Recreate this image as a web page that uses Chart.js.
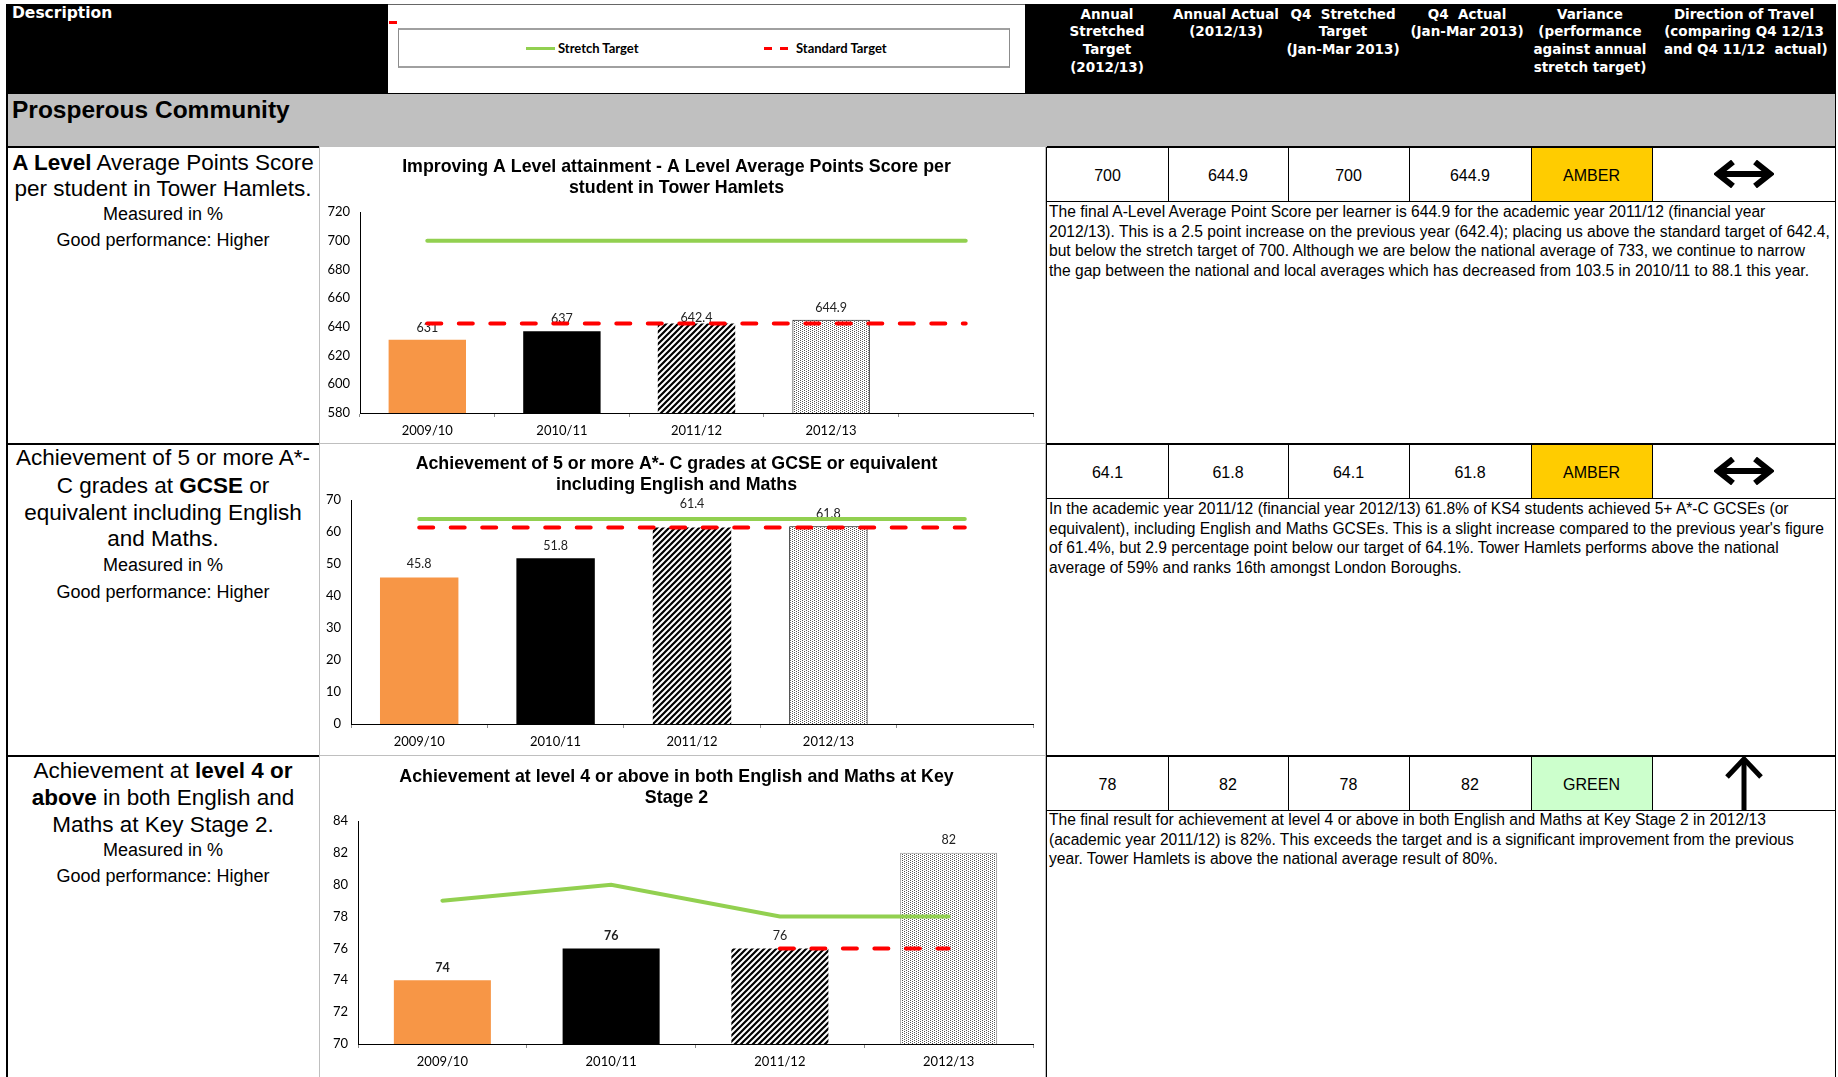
<!DOCTYPE html>
<html lang="en">
<head>
<meta charset="UTF-8">
<title>Prosperous Community - Education</title>
<script src="https://cdn.jsdelivr.net/npm/chart.js"></script>
<style>
  body { margin: 0; width: 1838px; height: 1077px; overflow: hidden; background: #fff; position: relative;
         font-family: 'Liberation Sans', Arial, sans-serif; color: #000; }
  .box { position: absolute; box-sizing: border-box; }
  .hd { position: absolute; color: #fff; font-family: 'DejaVu Sans', sans-serif;
        font-weight: bold; font-size: 13.5px; line-height: 17.8px; text-align: center; white-space: nowrap; width: 160px; }
  .dl { position: absolute; left: 8px; width: 310px; text-align: center; white-space: nowrap; line-height: 26px; }
  .big { font-size: 22.5px; }
  .small { font-size: 18px; }
  .para { position: absolute; left: 1049px; font-size: 15.6px; line-height: 19.5px; white-space: nowrap; }
  .val { position: absolute; font-size: 16px; text-align: center; line-height: 20px; }
  canvas { position: absolute; left: 320px; }
</style>
</head>
<body>

<!-- header band -->
<div class="box" style="left:6px;top:4px;width:1830px;height:90px;background:#000"></div>
<div class="box" style="left:388px;top:4px;width:637px;height:89px;background:#fff;border-top:1px solid #666"></div>
<div class="box" style="left:389px;top:21px;width:8px;height:3px;background:#f00"></div>
<div class="box" style="left:398px;top:28px;width:612px;height:40px;border:1px solid #8c8c8c;border-top:2px solid #a0a0a0;border-bottom:2px solid #a0a0a0"></div>
<div class="box" style="left:526px;top:47px;width:29px;height:3px;background:#92D050"></div>
<div class="box" style="left:764px;top:47px;width:8px;height:3px;background:#f00"></div>
<div class="box" style="left:780px;top:47px;width:8px;height:3px;background:#f00"></div>
<div class="box" style="left:558px;top:40px;font:bold 13px Lato, sans-serif;line-height:16px">Stretch Target</div>
<div class="box" style="left:796px;top:40px;font:bold 13px Lato, sans-serif;line-height:16px">Standard Target</div>

<div class="hd" style="left:12px;top:5px;width:auto;font-size:15.5px;text-align:left">Description</div>
<div class="hd" style="left:1027px;top:5.5px">Annual<br>Stretched<br>Target<br>(2012/13)</div>
<div class="hd" style="left:1146px;top:5.5px">Annual Actual<br>(2012/13)</div>
<div class="hd" style="left:1263px;top:5.5px">Q4&nbsp; Stretched<br>Target<br>(Jan-Mar 2013)</div>
<div class="hd" style="left:1387px;top:5.5px">Q4&nbsp; Actual<br>(Jan-Mar 2013)</div>
<div class="hd" style="left:1510px;top:5.5px">Variance<br>(performance<br>against annual<br>stretch target)</div>
<div class="hd" style="left:1664px;top:5.5px">Direction of Travel<br>(comparing Q4 12/13<br>and Q4 11/12&nbsp; actual)</div>

<!-- section band -->
<div class="box" style="left:7px;top:94px;width:1829px;height:53px;background:#c0c0c0"></div>
<div class="box" style="left:12px;top:95px;font-weight:bold;font-size:24.5px;line-height:30px">Prosperous Community</div>

<!-- grid lines and cells are added by script -->
<div id="grid"></div>

<!-- description column -->
<div class="dl big" style="top:150px"><b>A Level</b> Average Points Score</div>
<div class="dl big" style="top:176px">per student in Tower Hamlets.</div>
<div class="dl small" style="top:201px">Measured in %</div>
<div class="dl small" style="top:227px">Good performance: Higher</div>

<div class="dl big" style="top:445px">Achievement of 5 or more A*-</div>
<div class="dl big" style="top:473px">C grades at <b>GCSE</b> or</div>
<div class="dl big" style="top:500px">equivalent including English</div>
<div class="dl big" style="top:526px">and Maths.</div>
<div class="dl small" style="top:552px">Measured in %</div>
<div class="dl small" style="top:579px">Good performance: Higher</div>

<div class="dl big" style="top:758px">Achievement at <b>level 4 or</b></div>
<div class="dl big" style="top:785px"><b>above</b> in both English and</div>
<div class="dl big" style="top:812px">Maths at Key Stage 2.</div>
<div class="dl small" style="top:837px">Measured in %</div>
<div class="dl small" style="top:863px">Good performance: Higher</div>

<!-- commentary -->
<div class="para" style="top:202px">The final A-Level Average Point Score per learner is 644.9 for the academic year 2011/12 (financial year<br>2012/13). This is a 2.5 point increase on the previous year (642.4); placing us above the standard target of 642.4,<br>but below the stretch target of 700. Although we are below the national average of 733, we continue to narrow<br>the gap between the national and local averages which has decreased from 103.5 in 2010/11 to 88.1 this year.</div>
<div class="para" style="top:499px">In the academic year 2011/12 (financial year 2012/13) 61.8% of KS4 students achieved 5+ A*-C GCSEs (or<br>equivalent), including English and Maths GCSEs. This is a slight increase compared to the previous year's figure<br>of 61.4%, but 2.9 percentage point below our target of 64.1%. Tower Hamlets performs above the national<br>average of 59% and ranks 16th amongst London Boroughs.</div>
<div class="para" style="top:810px">The final result for achievement at level 4 or above in both English and Maths at Key Stage 2 in 2012/13<br>(academic year 2011/12) is 82%. This exceeds the target and is a significant improvement from the previous<br>year. Tower Hamlets is above the national average result of 80%.</div>

<canvas id="chartALevel" width="726" height="295" style="top:148px;width:726px;height:295px"></canvas>
<canvas id="chartGcse" width="726" height="310" style="top:445px;width:726px;height:310px"></canvas>
<canvas id="chartKs2" width="726" height="318" style="top:757px;width:726px;height:318px"></canvas>

<script>
// ---- chart data ----
const yearsFive = ['2009/10', '2010/11', '2011/12', '2012/13', ''];
const yearsFour = ['2009/10', '2010/11', '2011/12', '2012/13'];

const aLevelTitle = ['Improving A Level attainment - A Level Average Points Score per', 'student in Tower Hamlets'];
const aLevelActual = [631, 637, 642.4, 644.9, null];
const aLevelStretch = [700, 700, 700, 700, 700];
const aLevelStandard = [642.4, 642.4, 642.4, 642.4, 642.4];
const aLevelAxis = [580, 720, 20];

const gcseTitle = ['Achievement of 5 or more A*- C grades at GCSE or equivalent', 'including English and Maths'];
const gcseActual = [45.8, 51.8, 61.4, 61.8, null];
const gcseStretch = [64.1, 64.1, 64.1, 64.1, 64.1];
const gcseStandard = [61.4, 61.4, 61.4, 61.4, 61.4];
const gcseAxis = [0, 70, 10];

const ks2Title = ['Achievement at level 4 or above in both English and Maths at Key', 'Stage 2'];
const ks2Actual = [74, 76, 76, 82];
const ks2Stretch = [79, 80, 78, 78];
const ks2Standard = [null, null, 76, 76];
const ks2Axis = [70, 84, 2];

// ---- table data ----
const targetRows = [
  ['700', '644.9', '700', '644.9', 'AMBER', 'same'],
  ['64.1', '61.8', '64.1', '61.8', 'AMBER', 'same'],
  ['78', '82', '78', '82', 'GREEN', 'up']
];
const ragColours = { AMBER: '#FFCC00', GREEN: '#CCFFCC' };

// ---- table frame ----
const grid = document.getElementById('grid');
function box(x, y, w, h, bg) {
  const d = document.createElement('div');
  d.className = 'box';
  d.style.cssText = `left:${x}px;top:${y}px;width:${w}px;height:${h}px;background:${bg}`;
  grid.appendChild(d);
  return d;
}
const rowTops = [147, 444, 756];
const colEdges = [1047, 1168, 1288, 1409, 1531, 1652, 1836];
const valueRowHeight = 54;

box(6, 94, 2, 983, '#000');
box(1835, 94, 1, 983, '#000');
box(1046, 147, 1, 930, '#000');
box(319, 147, 1, 930, '#bfbfbf');
box(1045, 147, 1, 930, '#bfbfbf');

const arrowSame = '<svg width="60" height="28" viewBox="0 0 60 28"><path d="M4 14 H56" stroke="#000" stroke-width="6"/><path d="M19 2 L4 14 L19 26 M41 2 L56 14 L41 26" fill="none" stroke="#000" stroke-width="6"/></svg>';
const arrowUp = '<svg width="40" height="54" viewBox="0 0 40 54"><path d="M20 4 V54" stroke="#000" stroke-width="5"/><path d="M3 21 L20 3 L37 21" fill="none" stroke="#000" stroke-width="5"/></svg>';

targetRows.forEach((row, r) => {
  const top = rowTops[r];
  box(7, top - 1, 312, 2, '#000');
  box(320, top - 1, 726, 1, '#bfbfbf');
  box(1047, top - 1, 789, 2, '#000');
  box(1047, top + valueRowHeight, 789, 1, '#000');
  for (let c = 0; c < 6; c++) {
    const x = colEdges[c], w = colEdges[c + 1] - x;
    if (c === 4) box(x + 1, top + 1, w - 1, valueRowHeight - 1, ragColours[row[4]]);
    if (c > 0) box(x, top, 1, valueRowHeight, '#000');
    const v = document.createElement('div');
    v.className = 'val';
    if (c < 5) {
      v.style.cssText = `left:${x}px;width:${w}px;top:${top + valueRowHeight / 2 - 8.5}px`;
      v.textContent = row[c];
    } else if (row[5] === 'same') {
      v.style.cssText = `left:${x}px;width:${w}px;top:${top + 13}px;line-height:0`;
      v.innerHTML = arrowSame;
    } else {
      v.style.cssText = `left:${x}px;width:${w}px;top:${top}px;line-height:0`;
      v.innerHTML = arrowUp;
    }
    grid.appendChild(v);
  }
});

// ---- patterns for the last two bars ----
function hatchPattern() {
  const c = document.createElement('canvas');
  c.width = 6; c.height = 6;
  const g = c.getContext('2d');
  g.fillStyle = '#fff';
  g.fillRect(0, 0, 6, 6);
  g.strokeStyle = '#000';
  g.lineWidth = 2.2;
  g.beginPath();
  g.moveTo(-1, 7); g.lineTo(7, -1);
  g.moveTo(-1, 1); g.lineTo(1, -1);
  g.moveTo(5, 7); g.lineTo(7, 5);
  g.stroke();
  return g.createPattern(c, 'repeat');
}
function dotPattern() {
  const c = document.createElement('canvas');
  c.width = 4; c.height = 2;
  const g = c.getContext('2d');
  g.fillStyle = '#fff';
  g.fillRect(0, 0, 4, 2);
  g.fillStyle = '#555';
  g.fillRect(0, 0, 1, 1);
  g.fillRect(2, 1, 1, 1);
  return g.createPattern(c, 'repeat');
}

// value labels above the bars, drawn before the target lines
const barLabels = {
  id: 'barLabels',
  afterDatasetDraw(chart, args, opts) {
    if (args.index !== 0) return;
    const ctx = chart.ctx;
    const values = chart.data.datasets[0].data;
    args.meta.data.forEach((bar, i) => {
      if (values[i] == null) return;
      ctx.save();
      ctx.font = `${opts.bold && opts.bold[i] ? 'bold ' : ''}12.5px Lato, sans-serif`;
      ctx.fillStyle = '#222';
      ctx.textAlign = 'center';
      ctx.textBaseline = 'middle';
      ctx.fillText(String(values[i]), bar.x, bar.y - (opts.lift ? opts.lift[i] : 12));
      ctx.restore();
    });
  }
};

const chartFont = "Lato, 'Liberation Sans', sans-serif";

function buildChart(id, p) {
  return new Chart(document.getElementById(id), {
    type: 'bar',
    plugins: [barLabels],
    data: {
      labels: p.labels,
      datasets: [
        {
          type: 'bar',
          data: p.actual,
          backgroundColor: ['#F79646', '#000000', hatchPattern(), dotPattern()],
          borderColor: ['#000', '#000', '#000', p.lastBorder],
          borderWidth: [0, 0, 0, 1],
          barPercentage: 0.575,
          categoryPercentage: 1,
          order: 2
        },
        {
          type: 'line',
          label: 'Stretch Target',
          data: p.stretch,
          borderColor: '#92D050',
          borderWidth: 4,
          borderCapStyle: 'round',
          pointRadius: 0,
          fill: false,
          order: 1
        },
        {
          type: 'line',
          label: 'Standard Target',
          data: p.standard,
          borderColor: '#FF0000',
          borderWidth: 4,
          borderDash: [14, 17.5],
          borderCapStyle: 'round',
          pointRadius: 0,
          fill: false,
          order: 0
        }
      ]
    },
    options: {
      responsive: false,
      animation: false,
      layout: { padding: { left: 0, right: 13, top: 0, bottom: 0 } },
      plugins: {
        legend: { display: false },
        tooltip: { enabled: false },
        title: {
          display: true,
          text: p.title,
          color: '#000',
          font: { family: "'Liberation Sans', Arial, sans-serif", size: 17.8, weight: 'bold', lineHeight: 1.18 },
          padding: { top: p.titleTop, bottom: p.titleBottom }
        },
        barLabels: { lift: p.lift, bold: p.bold }
      },
      scales: {
        x: {
          grid: { display: true, drawOnChartArea: false, drawTicks: true, tickLength: 4, color: '#8c8c8c', offset: true },
          border: { display: true, color: '#000', width: 1 },
          ticks: { color: '#000', font: { family: chartFont, size: 13 }, padding: 6.2, maxRotation: 0, autoSkip: false },
          afterFit(s) { s.height = p.xAxisHeight; }
        },
        y: {
          min: p.axis[0],
          max: p.axis[1],
          ticks: { stepSize: p.axis[2], color: '#000', font: { family: chartFont, size: 13 }, padding: 10 },
          grid: { display: false, drawTicks: false },
          border: { display: true, color: '#000', width: 1 },
          afterFit(s) { s.width = p.yAxisWidth; }
        }
      }
    }
  });
}

buildChart('chartALevel', {
  labels: yearsFive, actual: aLevelActual, stretch: aLevelStretch, standard: aLevelStandard,
  axis: aLevelAxis, title: aLevelTitle, lastBorder: '#000',
  yAxisWidth: 40, xAxisHeight: 30, titleTop: 8.7, titleBottom: 13.3,
  lift: [12, 12, 5, 12]
});
buildChart('chartGcse', {
  labels: yearsFive, actual: gcseActual, stretch: gcseStretch, standard: gcseStandard,
  axis: gcseAxis, title: gcseTitle, lastBorder: '#000',
  yAxisWidth: 31, xAxisHeight: 31, titleTop: 8.7, titleBottom: 4.3,
  lift: [13, 12, 24, 12]
});
buildChart('chartKs2', {
  labels: yearsFour, actual: ks2Actual, stretch: ks2Stretch, standard: ks2Standard,
  axis: ks2Axis, title: ks2Title, lastBorder: '#9a9a9a',
  yAxisWidth: 38, xAxisHeight: 31, titleTop: 9.5, titleBottom: 12.5,
  lift: [12, 12, 12, 13], bold: [true, true, false, false]
});
</script>
</body>
</html>
